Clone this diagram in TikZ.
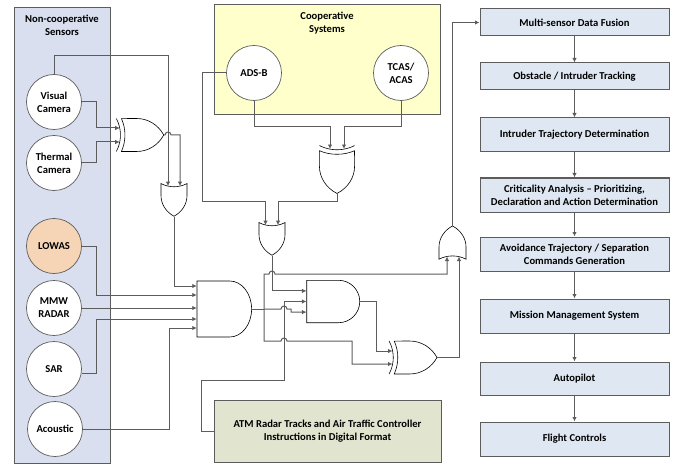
\documentclass[tikz,border=0pt]{standalone}
\usepackage{fontspec}
\setmainfont{Carlito}
\usepackage{tikz}
\usetikzlibrary{arrows.meta, positioning, calc, shapes.gates.logic.US}
\definecolor{panelblue}{HTML}{D9DFEE}
\definecolor{panelyellow}{HTML}{FFFFCC}
\definecolor{panelgreen}{HTML}{E1E5D0}
\definecolor{panelorange}{HTML}{F6D5B7}
\definecolor{stageblue}{HTML}{DFE8F2}
\definecolor{edgegray}{HTML}{5C5C5C}

\begin{document}
\begin{tikzpicture}[x=1pt, y=1pt, font=\bfseries\fontsize{10.6}{13}\selectfont,
    panel/.style={draw=edgegray, line width=1pt, minimum width=#1, inner sep=0pt},
    sensor/.style={circle, draw=edgegray, fill=white, line width=0.7pt, minimum size=55pt, inner sep=0pt, align=center},
    stagebox/.style={draw=edgegray, fill=stageblue, line width=1pt, minimum width=189pt, minimum height=#1, inner sep=0pt, align=center},
    gate/.style={draw=black, fill=white, line width=0.6pt, inner sep=0pt, logic gate inputs=nn},
    wire/.style={draw=edgegray, line width=1pt},
    wirearrow/.style={wire, -{Latex[length=4.5pt, width=4.5pt]}}]
  \useasboundingbox (0,0) rectangle (676,464);

  % Panels
  \node[panel=96pt, fill=panelblue, minimum height=455pt] (noncoop) at (62,228.5) {};
  \node[panel=226pt, fill=panelyellow, minimum height=110pt] (coop) at (327,404) {};
  \node[align=center] (noncooptitle) at (62,439) {Non-cooperative\\Sensors};
  \node[align=center] (cooptitle) at (327,441) {Cooperative\\Systems};

  % Sensors
  \node[sensor] (visual) at (54,362) {Visual\\Camera};
  \node[sensor] (thermal) at (54,301) {Thermal\\Camera};
  \node[sensor, fill=panelorange] (lowas) at (54,218) {LOWAS};
  \node[sensor] (mmw) at (54,156) {MMW\\RADAR};
  \node[sensor] (sar) at (54,95) {SAR};
  \node[sensor] (acoustic) at (55,35) {Acoustic};
  \node[sensor] (adsb) at (254,391) {ADS-B};
  \node[sensor] (tcas) at (401,391) {TCAS/\\ACAS};

  % ATM data
  \node[draw=edgegray, fill=panelgreen, line width=1pt, minimum width=227pt, minimum height=62pt, inner sep=0pt, align=center] (atm) at (327.5,33)
    {ATM Radar Tracks and Air Traffic Controller\\Instructions in Digital Format};

  % Processing chain
  \node[stagebox=27pt] (fusion) at (574.5,441.5) {Multi-sensor Data Fusion};
  \node[stagebox=27pt] (tracking) at (574.5,387.5) {Obstacle / Intruder Tracking};
  \node[stagebox=34pt] (trajectory) at (574.5,329) {Intruder Trajectory Determination};
  \node[stagebox=34pt] (criticality) at (574.5,269) {Criticality Analysis -- Prioritizing,\\Declaration and Action Determination};
  \node[stagebox=34pt] (avoidance) at (574.5,210) {Avoidance Trajectory / Separation\\Commands Generation};
  \node[stagebox=34pt] (mission) at (574.5,148) {Mission Management System};
  \node[stagebox=33pt] (autopilot) at (574.5,85.5) {Autopilot};
  \node[stagebox=34pt] (controls) at (574.5,25) {Flight Controls};
  \foreach \a/\b in {fusion/tracking, tracking/trajectory, trajectory/criticality, criticality/avoidance, avoidance/mission, mission/autopilot, autopilot/controls}
    \draw[wirearrow] (\a) -- (\b);

  % Gates
  \node[xor gate US, gate, xscale=0.94, minimum width=45pt, minimum height=28pt] (xora) at (139.5,329) {};
  \node[or gate US, gate, rotate=-90, xscale=0.92, minimum width=33pt, minimum height=26pt] (ora) at (174,266.5) {};
  \node[xor gate US, gate, rotate=-90, xscale=0.89, minimum width=48pt, minimum height=30pt] (xorb) at (337,295) {};
  \node[or gate US, gate, rotate=-90, xscale=0.92, minimum width=33pt, minimum height=26pt] (orb) at (272,227.5) {};
  \node[and gate US, gate, xscale=0.78, minimum width=55pt, minimum height=56pt] (anda) at (222.5,155) {};
  \node[and gate US, gate, logic gate inputs=nnn, minimum width=53pt, minimum height=39pt] (andb) at (331.5,162.5) {};
  \node[xor gate US, gate, xscale=0.95, minimum width=45pt, minimum height=29pt] (xorc) at (412.5,106.5) {};
  \node[or gate US, gate, rotate=90, xscale=0.9, minimum width=34pt, minimum height=27pt] (orc) at (452.5,219) {};

  % Non-cooperative branch
  \draw[wirearrow] (visual.east) -| (96,336) -- (xora.input 1 |- 0,336);
  \draw[wirearrow] (thermal.east) -| (96,322) -- (xora.input 2 |- 0,322);
  \draw[wirearrow] (visual.north) |- (168,408) -- (168,0 |- ora.input 2);
  \draw[wirearrow] (xora.output) -- (165,329) arc (180:0:3) -| (180,0 |- ora.input 1);
  \draw[wirearrow] (ora.output) |- (anda.input 1 |- 0,178);
  \draw[wirearrow] (lowas.east) -| (96,169) -- (anda.input 1 |- 0,169);
  \draw[wirearrow] (mmw.east) -- (anda.input 1 |- 0,156);
  \draw[wirearrow] (sar.east |- 0,91) -| (96,145) -- (anda.input 1 |- 0,145);
  \draw[wirearrow] (acoustic.east) -| (169,136) -- (anda.input 1 |- 0,136);

  % Cooperative branch
  \draw[wirearrow] (adsb.south) |- (330,337.5) -- (330,0 |- xorb.input 2);
  \draw[wirearrow] (tcas.south) |- (344,337.5) -- (344,0 |- xorb.input 1);
  \draw[wirearrow] (adsb.west) -| (202,263) -- (265.5,263) -- (265.5,0 |- orb.input 2);
  \draw[wirearrow] (xorb.output) |- (278,263) -- (278,0 |- orb.input 1);

  % Decision logic
  \coordinate (split) at (264,155);
  \draw[wire] (anda.output) -- (split);
  \draw[wirearrow] (split) -- (281,155) arc (180:0:3) -- (291,155) |- (andb.input 3);
  \draw[wirearrow] (split) |- (269,190) arc (180:0:3) -| (447,0 |- orc.input 1);
  \draw[wirearrow] (split) |- (281,123) arc (180:0:3) -- (352,123) |- (xorc.input 2 |- 0,100);
  \draw[wirearrow] (orb.output) |- (andb.input 1);
  \draw[wirearrow] (atm.west) -| (201,84) -- (284,84) |- (andb.input 2);
  \draw[wirearrow] (andb.output) -| (376,113) -- (xorc.input 1 |- 0,113);
  \draw[wirearrow] (xorc.output) -| (459,0 |- orc.input 2);
  \draw[wirearrow] (orc.output) |- (fusion.west);
\end{tikzpicture}
\end{document}
